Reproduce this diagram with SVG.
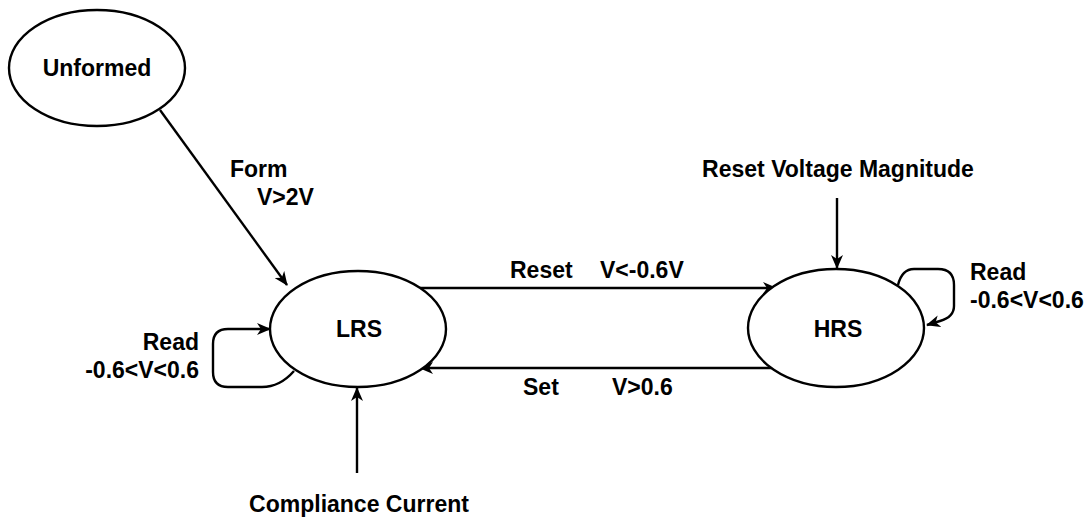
<svg xmlns="http://www.w3.org/2000/svg" width="1092" height="520" viewBox="0 0 1092 520">
<defs>
<marker id="arr" viewBox="0 0 14 12" refX="13" refY="6" markerWidth="14" markerHeight="12" markerUnits="userSpaceOnUse" orient="auto">
<path d="M0,0 L14,6 L0,12 L4,6 Z" fill="#000"/>
</marker>
<style>
.node ellipse{fill:#fff;stroke:#000;stroke-width:2.4}
.lbl{font-family:"Liberation Sans",Arial,sans-serif;font-weight:bold;font-size:23px;fill:#000}
.c{text-anchor:middle}
.e{text-anchor:end}
.edge{fill:none;stroke:#000;stroke-width:2.4;marker-end:url(#arr)}
</style>
</defs>
<rect width="1092" height="520" fill="#fff"/>
<g id="connectors">
<path class="edge" d="M160 110 L287 285"/>
<path class="edge" d="M420 288 L776 288"/>
<path class="edge" d="M772 368 L420 368"/>
<path class="edge" d="M837 198 L837 268"/>
<path class="edge" d="M357 473 L357 388"/>
<path class="edge" d="M294 371 Q280 387 262 387 L228 387 Q213 387 213 372 L213 344 Q213 329 228 329 L270 329"/>
<path class="edge" d="M898 285 Q902 269 914 269 L938 269 Q954 269 954 285 L954 306 Q954 317 940 321 L927 325"/>
</g>
<g id="unformed" class="node">
<ellipse cx="97" cy="68" rx="88" ry="58"/>
<text class="lbl c" x="97" y="76">Unformed</text>
</g>
<g id="lrs" class="node">
<ellipse cx="358" cy="329" rx="88" ry="58"/>
<text class="lbl c" x="359" y="337">LRS</text>
</g>
<g id="hrs" class="node">
<ellipse cx="836" cy="328" rx="88" ry="59"/>
<text class="lbl c" x="838" y="337">HRS</text>
</g>
<g id="labels">
<text class="lbl" x="230" y="177">Form</text>
<text class="lbl" x="257" y="205">V&gt;2V</text>
<text class="lbl c" x="838" y="177">Reset Voltage Magnitude</text>
<text class="lbl c" x="359" y="512">Compliance Current</text>
<text class="lbl" x="510" y="278">Reset</text>
<text class="lbl" x="600" y="278">V&lt;-0.6V</text>
<text class="lbl" x="523" y="395">Set</text>
<text class="lbl" x="612" y="395">V&gt;0.6</text>
<text class="lbl" x="970" y="280">Read</text>
<text class="lbl" x="970" y="308">-0.6&lt;V&lt;0.6</text>
<text class="lbl e" x="199" y="350">Read</text>
<text class="lbl e" x="199" y="378">-0.6&lt;V&lt;0.6</text>
</g>
</svg>
